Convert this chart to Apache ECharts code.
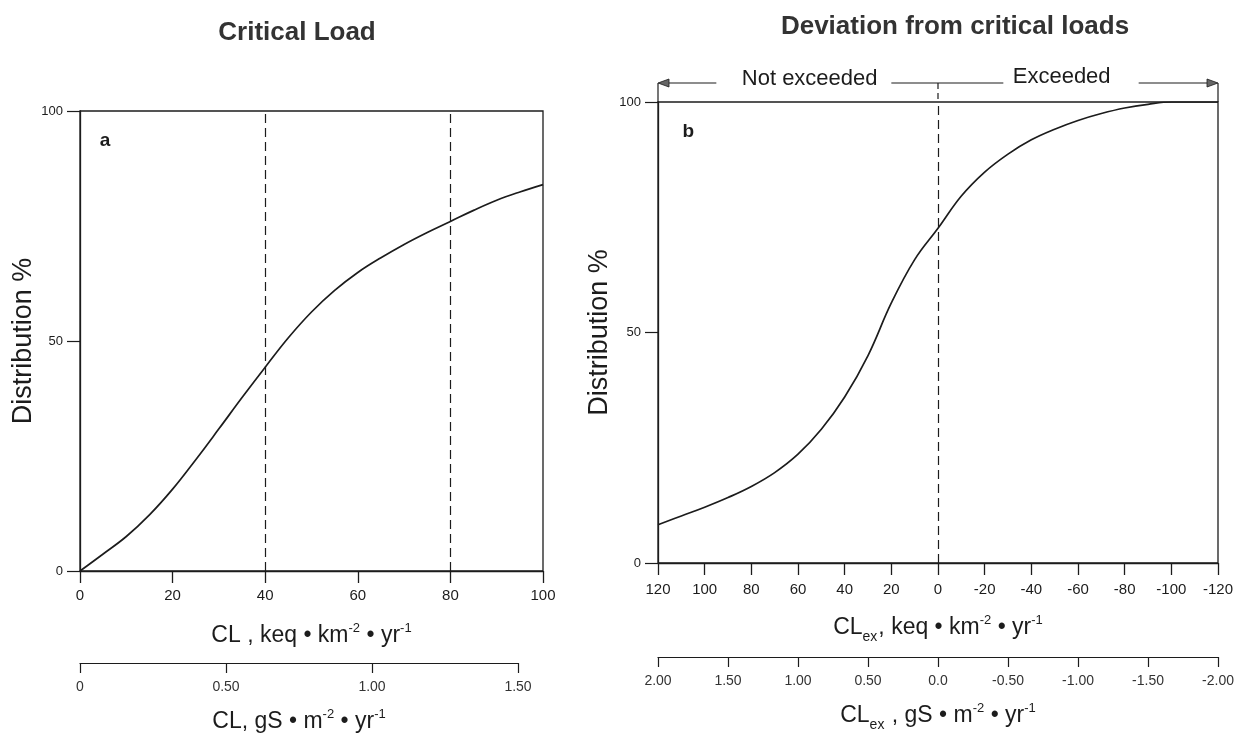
<!DOCTYPE html>
<html>
<head>
<meta charset="utf-8">
<script src="https://cdn.jsdelivr.net/npm/echarts@6/dist/echarts.min.js"></script>
<style>
  html, body { margin: 0; padding: 0; background: #fff; }
  #chart { width: 1243px; height: 734px; }
</style>
</head>
<body>
<div id="chart"></div>
<script>
// panel a: cumulative distribution of critical loads
const clKeq = [0, 5, 10, 15, 20, 25, 30, 35, 40, 45, 50, 55, 60, 65, 70, 75, 80, 85, 90, 95, 100];
const distA = [0, 3.7, 7.5, 12.2, 17.8, 24.2, 30.9, 37.7, 44.3, 50.7, 56.3, 61.0, 64.9, 68.1, 71.0, 73.6, 76.0, 78.4, 80.6, 82.4, 84.0];
const dashedA = [40, 80];

// panel b: deviation from critical loads (positive = not exceeded)
const clEx = [120, 110, 100, 90, 80, 70, 60, 50, 40, 30, 20, 10, 0, -10, -20, -30, -40, -50, -60, -70, -80, -90, -100, -110, -120];
const distB = [8.3, 10.2, 12.1, 14.2, 16.6, 19.6, 23.6, 29.0, 36.0, 45.0, 56.4, 65.8, 72.6, 79.6, 84.8, 88.7, 91.8, 94.1, 96.0, 97.5, 98.7, 99.5, 100, 100, 100];
const dashedB = [0];

// secondary (gS) axes tick labels
const gsTicksA = [0, 0.5, 1.0, 1.5];
const gsLabelsA = ['0', '0.50', '1.00', '1.50'];
const gsTicksB = [2, 1.5, 1, 0.5, 0, -0.5, -1, -1.5, -2];
const gsLabelsB = ['2.00', '1.50', '1.00', '0.50', '0.0', '-0.50', '-1.00', '-1.50', '-2.00'];

const ink = '#1c1c1c';
const font = '"Liberation Sans", Arial, sans-serif';

const rich = {
  m: { fontSize: 23, fontFamily: font, color: ink, lineHeight: 30, verticalAlign: 'bottom' },
  sup: { fontSize: 13, fontFamily: font, color: ink, lineHeight: 30, verticalAlign: 'bottom', padding: [0, 0, 12, 0] },
  sub: { fontSize: 14, fontFamily: font, color: ink, lineHeight: 30, verticalAlign: 'bottom', padding: [0, 1, -5, 0] }
};

const pickLabel = (ticks, labels) => (v) => {
  const i = ticks.findIndex(t => Math.abs(t - v) < 1e-9);
  return i >= 0 ? labels[i] : '';
};

const mainX = (grid, min, max, inverse, name, margin) => ({
  type: 'value', gridIndex: grid, min: min, max: max, interval: 20, inverse: inverse,
  name: name, nameLocation: 'middle', nameGap: 46,
  nameTextStyle: { rich: rich },
  axisLine: { onZero: false, lineStyle: { color: ink, width: 1.3 } },
  axisTick: { length: 12, lineStyle: { color: ink, width: 1.3 } },
  axisLabel: { fontSize: 15, fontFamily: font, color: ink, margin: margin },
  splitLine: { show: false }
});

const gsX = (grid, min, max, inverse, ticks, labels, name) => ({
  type: 'value', gridIndex: grid, min: min, max: max, interval: 0.5, inverse: inverse,
  name: name, nameLocation: 'middle', nameGap: 40,
  nameTextStyle: { rich: rich },
  axisLine: { onZero: false, lineStyle: { color: ink, width: 1.2 } },
  axisTick: { length: 10, lineStyle: { color: ink, width: 1.2 } },
  axisLabel: { fontSize: 14, fontFamily: font, color: '#333', margin: 17, formatter: pickLabel(ticks, labels) },
  splitLine: { show: false }
});

const mainY = (grid, nameGap) => ({
  type: 'value', gridIndex: grid, min: 0, max: 100, interval: 50,
  name: 'Distribution %', nameLocation: 'middle', nameGap: nameGap,
  nameTextStyle: { fontSize: 27, fontFamily: font, color: ink },
  axisLine: { onZero: false, lineStyle: { color: ink, width: 1.3 } },
  axisTick: { length: 13, lineStyle: { color: ink, width: 1.2 } },
  axisLabel: { fontSize: 13, fontFamily: font, color: ink, margin: 17 },
  splitLine: { show: false }
});

const hiddenY = (grid) => ({ type: 'value', gridIndex: grid, show: false, min: 0, max: 1 });

const dashedMarks = (xs) => ({
  silent: true, symbol: 'none', label: { show: false },
  lineStyle: { color: ink, type: [9, 5], width: 1.2 },
  data: xs.map(x => ({ xAxis: x }))
});

const option = {
  backgroundColor: '#fff',
  animation: false,
  title: [
    { text: 'Critical Load', left: 292, top: 15, textAlign: 'center',
      textStyle: { fontSize: 26, fontWeight: 'bold', fontFamily: font, color: '#333' } },
    { text: 'Deviation from critical loads', left: 950, top: 9, textAlign: 'center',
      textStyle: { fontSize: 26, fontWeight: 'bold', fontFamily: font, color: '#333' } }
  ],
  grid: [
    { left: 80, top: 111, width: 463, height: 460, show: true, borderColor: ink, borderWidth: 1.3 },
    { left: 80, top: 600, width: 438, height: 63 },
    { left: 658, top: 102, width: 560, height: 461, show: true, borderColor: ink, borderWidth: 1.3 },
    { left: 658, top: 594, width: 560, height: 63 }
  ],
  xAxis: [
    mainX(0, 0, 100, false, '{m|CL , keq • km}{sup|-2}{m| • yr}{sup|-1}', 17),
    gsX(1, 0, 1.5, false, gsTicksA, gsLabelsA, '{m|CL, gS • m}{sup|-2}{m| • yr}{sup|-1}'),
    mainX(2, -120, 120, true, '{m|CL}{sub|ex}{m|, keq • km}{sup|-2}{m| • yr}{sup|-1}', 19),
    gsX(3, -2, 2, true, gsTicksB, gsLabelsB, '{m|CL}{sub|ex}{m| , gS • m}{sup|-2}{m| • yr}{sup|-1}')
  ],
  yAxis: [mainY(0, 40), hiddenY(1), mainY(2, 45), hiddenY(3)],
  series: [
    {
      type: 'line', xAxisIndex: 0, yAxisIndex: 0, smooth: 0.4, showSymbol: false,
      lineStyle: { color: ink, width: 1.7 },
      data: clKeq.map((x, i) => [x, distA[i]]),
      markLine: dashedMarks(dashedA)
    },
    {
      type: 'line', xAxisIndex: 2, yAxisIndex: 2, smooth: 0.4, showSymbol: false,
      lineStyle: { color: ink, width: 1.7 },
      data: clEx.map((x, i) => [x, distB[i]]),
      markLine: dashedMarks(dashedB)
    }
  ]
};

const chart = echarts.init(document.getElementById('chart'));
chart.setOption(option);

// annotations placed from data coordinates
const pa = (x, y) => chart.convertToPixel({ gridIndex: 0 }, [x, y]);
const pb = (x, y) => chart.convertToPixel({ gridIndex: 2 }, [x, y]);

const [bl, bTop] = pb(120, 100);
const [br] = pb(-120, 100);
const [b0] = pb(0, 100);
const arrowY = bTop - 19;
const arrowHead = (x, dir) => ({
  type: 'polygon',
  shape: { points: [[x, arrowY], [x - dir * 11, arrowY - 4], [x - dir * 11, arrowY + 4]] },
  style: { fill: '#666', stroke: ink, lineWidth: 0.8 }
});
const hline = (x1, x2) => ({
  type: 'line', shape: { x1: x1, y1: arrowY, x2: x2, y2: arrowY },
  style: { stroke: ink, lineWidth: 1.2 }
});
const vline = (x, dashed) => ({
  type: 'line', shape: { x1: x, y1: arrowY, x2: x, y2: bTop },
  style: { stroke: ink, lineWidth: 1.2, lineDash: dashed ? [6, 4] : null }
});
const label = (pt, text, size, bold) => ({
  type: 'text', x: pt[0], y: pt[1],
  style: { text: text, fontSize: size, fontWeight: bold ? 'bold' : 'normal', fontFamily: font,
           fill: ink, align: 'center', verticalAlign: 'middle' }
});

chart.setOption({
  graphic: [
    vline(bl, false), vline(br, false), vline(b0, true),
    hline(bl + 2, pb(95, 0)[0]),
    hline(pb(20, 0)[0], pb(-28, 0)[0]),
    hline(pb(-86, 0)[0], br - 2),
    arrowHead(bl, -1), arrowHead(br, 1),
    label([pb(55, 0)[0], arrowY - 4], 'Not exceeded', 22, false),
    label([pb(-53, 0)[0], arrowY - 6], 'Exceeded', 22, false),
    label(pa(5.4, 93.5), 'a', 19, true),
    label(pb(107, 93.5), 'b', 19, true)
  ]
});
</script>
</body>
</html>
